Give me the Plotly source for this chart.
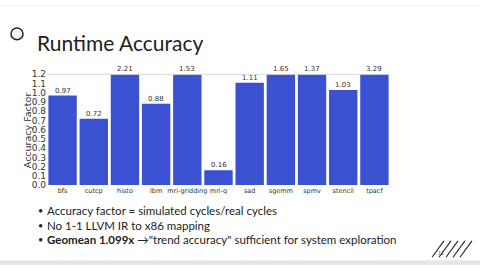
import plotly.graph_objects as go

categories = ["bfs", "cutcp", "histo", "lbm", "mri-gridding", "mri-q", "sad", "sgemm", "spmv", "stencil", "tpacf"]
values = [0.97, 0.72, 2.21, 0.88, 1.53, 0.16, 1.11, 1.65, 1.37, 1.03, 3.29]
value_labels = ["0.97", "0.72", "2.21", "0.88", "1.53", "0.16", "1.11", "1.65", "1.37", "1.03", "3.29"]
ymax = 1.2
bullets = [
    "Accuracy factor = simulated cycles/real cycles",
    "No 1-1 LLVM IR to x86 mapping",
    "<b>Geomean 1.099x</b> \u2192\"trend accuracy\" sufficient for system exploration",
]

W, H = 480, 270
def px(x): return x / W
def py(y): return 1 - y / H

fig = go.Figure()
fig.add_trace(go.Bar(x=categories, y=values, marker=dict(color="#3a52d2", line=dict(width=0)),
                     hoverinfo="skip"))

annotations = []
for c, v, t in zip(categories, values, value_labels):
    annotations.append(dict(x=c, y=min(v, ymax), xref="x", yref="y", text=t, showarrow=False,
                            yanchor="bottom", yshift=-1, font=dict(family="DejaVu Sans", size=7, color="#333")))

annotations.append(dict(x=px(27), y=py(130), xref="paper", yref="paper", text="Accuracy Factor",
                        showarrow=False, textangle=-90, xanchor="center", yanchor="middle",
                        font=dict(family="DejaVu Sans", size=9.5, color="#333")))
annotations.append(dict(x=px(35), y=py(39), xref="paper", yref="paper", text="Runtime Accuracy",
                        showarrow=False, xanchor="left", yanchor="middle",
                        font=dict(family="Lato", size=21, color="#222")))
for i, b in enumerate(bullets):
    yy = 213.5 + i * 15
    annotations.append(dict(x=px(36), y=py(yy), xref="paper", yref="paper", text="\u2022", showarrow=False,
                            xanchor="left", yanchor="middle", font=dict(family="Lato", size=9, color="#222")))
    annotations.append(dict(x=px(45), y=py(yy), xref="paper", yref="paper", text=b, showarrow=False,
                            xanchor="left", yanchor="middle", font=dict(family="Lato", size=11.5, color="#222")))
annotations.append(dict(x=px(436), y=py(258), xref="paper", yref="paper", text="11", showarrow=False,
                        xanchor="left", yanchor="middle", font=dict(family="Lato", size=5, color="#555")))

shapes = [
    dict(type="line", xref="x domain", yref="y domain", x0=0, x1=1, y0=1, y1=1,
         line=dict(color="#d8d8d8", width=1)),
    dict(type="circle", xref="paper", yref="paper", x0=px(11), x1=px(23), y0=py(36), y1=py(24),
         line=dict(color="#222", width=1.5), fillcolor="#f2f2f2"),
    dict(type="rect", xref="paper", yref="paper", x0=0, x1=1, y0=py(270), y1=py(265),
         line=dict(width=0), fillcolor="#e6e6e6"),
    dict(type="line", xref="paper", yref="paper", x0=0, x1=1, y0=py(1), y1=py(1),
         line=dict(color="#eeeeee", width=1)),
]
for k in range(5):
    x0 = 432 + k * 7
    shapes.append(dict(type="line", xref="paper", yref="paper", x0=px(x0), x1=px(x0 + 12),
                       y0=py(262), y1=py(245), line=dict(color="#222", width=1.1)))

fig.update_layout(
    width=W, height=H, margin=dict(l=0, r=0, t=0, b=0),
    paper_bgcolor="white", plot_bgcolor="white", showlegend=False, bargap=0.09,
    annotations=annotations, shapes=shapes,
    xaxis=dict(domain=[px(47), px(390)], range=[-0.5, len(categories) - 0.5], showgrid=False,
               showline=False, ticks="", tickangle=0,
               tickfont=dict(family="DejaVu Sans", size=6.5, color="#333"),
               fixedrange=True),
    yaxis=dict(domain=[py(187), py(72)], range=[0, ymax], dtick=0.1, tickformat=".1f", showgrid=False,
               zeroline=False, showline=False, ticks="",
               tickfont=dict(family="DejaVu Sans", size=9, color="#333"),
               fixedrange=True),
)
fig.write_html("out.html")
